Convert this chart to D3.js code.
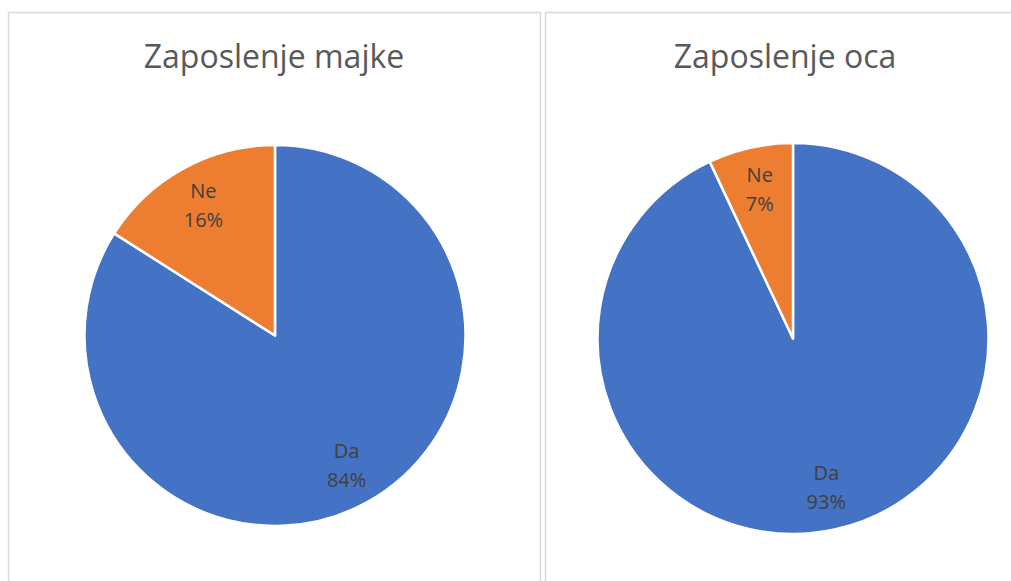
<!DOCTYPE html>
<html>
<head>
<meta charset="utf-8">
<script src="https://cdn.jsdelivr.net/npm/d3@7.9.0/dist/d3.min.js"></script>
<style>
  body { margin: 0; background: #fff; }
  svg { display: block; }
</style>
</head>
<body>
<svg id="chart" width="1011" height="581"></svg>
<script>
const titles = ["Zaposlenje majke", "Zaposlenje oca"];
const categories = ["Da", "Ne"];
const motherValues = [84, 16];
const fatherValues = [93, 7];

const colors = d3.scaleOrdinal().domain(categories).range(["#4472C4", "#ED7D31"]);

const svg = d3.select("#chart");

// panel frames
const panels = [
  { x: 8, y: 12, w: 532, h: 600, cx: 275, cy: 335.5, r: 190.5, tx: 274, values: motherValues, title: titles[0] },
  { x: 545, y: 12, w: 480, h: 600, cx: 793, cy: 338.5, r: 195.5, tx: 785, values: fatherValues, title: titles[1] }
];

const pie = d3.pie().sort(null).value((d) => d.value);

panels.forEach((p) => {
  svg.append("rect")
    .attr("x", p.x + 0.5)
    .attr("y", p.y + 0.5)
    .attr("width", p.w)
    .attr("height", p.h)
    .attr("fill", "#fff")
    .attr("stroke", "#d9d9d9")
    .attr("stroke-width", 1.5);

  svg.append("text")
    .attr("x", p.tx)
    .attr("y", 68)
    .attr("text-anchor", "middle")
    .attr("fill", "#595959")
    .style("font-family", "'Open Sans', sans-serif")
    .style("font-size", "32px")
    .text(p.title);

  const data = categories.map((c, i) => ({ name: c, value: p.values[i] }));
  const arcs = pie(data);
  const arc = d3.arc().innerRadius(0).outerRadius(p.r);
  const labelArc = d3.arc().innerRadius(p.r * 0.78).outerRadius(p.r * 0.78);
  const total = d3.sum(p.values);

  const g = svg.append("g").attr("transform", `translate(${p.cx},${p.cy})`);

  g.selectAll("path")
    .data(arcs)
    .enter()
    .append("path")
    .attr("d", arc)
    .attr("fill", (d) => colors(d.data.name))
    .attr("stroke", "#fff")
    .attr("stroke-width", 2.5)
    .attr("stroke-linejoin", "round");

  const labels = g.selectAll(".label")
    .data(arcs)
    .enter()
    .append("text")
    .attr("class", "label")
    .attr("transform", (d) => `translate(${labelArc.centroid(d)})`)
    .attr("text-anchor", "middle")
    .attr("fill", "#404040")
    .style("font-family", "'Open Sans', sans-serif")
    .style("font-size", "20px");

  labels.append("tspan")
    .attr("x", 0)
    .attr("y", -7.5)
    .text((d) => d.data.name);

  labels.append("tspan")
    .attr("x", 0)
    .attr("y", 21.5)
    .text((d) => Math.round((d.data.value / total) * 100) + "%");
});
</script>
</body>
</html>
